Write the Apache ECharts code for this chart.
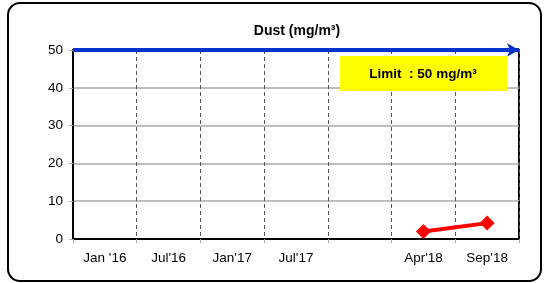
<!DOCTYPE html>
<html>
<head>
<meta charset="utf-8">
<script src="https://cdn.jsdelivr.net/npm/echarts@6/dist/echarts.min.js"></script>
<style>
  html, body { margin: 0; padding: 0; background: #fff; }
  #chart { width: 544px; height: 283px; }
</style>
</head>
<body>
<div id="chart"></div>
<script>
// categories along the x axis (one empty slot between Jul'17 and Apr'18)
var categories = ["Jan '16", "Jul'16", "Jan'17", "Jul'17", "", "Apr'18", "Sep'18"];
// dust readings (mg/m3)
var dustValues = [null, null, null, null, null, 2, 4.2];
var limitValue = 50;
var yTicks = { min: 0, max: 50, interval: 10 };

var myChart = echarts.init(document.getElementById('chart'));

var option = {
    animation: false,
    textStyle: { fontFamily: 'Liberation Sans, Arial, sans-serif' },
    title: {
        text: 'Dust (mg/m³)',
        left: 292,
        textAlign: 'center',
        top: 19,
        textStyle: { fontSize: 14, fontWeight: 'bold', color: '#000', fontFamily: 'Liberation Sans, Arial, sans-serif' }
    },
    grid: {
        left: 73,
        right: 25,
        top: 50,
        bottom: 44,
        show: true,
        borderColor: '#000',
        borderWidth: 2,
        backgroundColor: 'transparent'
    },
    xAxis: {
        type: 'category',
        data: categories,
        boundaryGap: true,
        axisLine: { show: true, lineStyle: { color: '#000', width: 2 } },
        axisTick: { show: true, length: 4, lineStyle: { color: '#aaa' } },
        axisLabel: { color: '#000', fontSize: 13.5, margin: 12, interval: 0 },
        splitLine: { show: true, lineStyle: { color: '#555', type: [4, 3], width: 1 } }
    },
    yAxis: {
        type: 'value',
        min: yTicks.min,
        max: yTicks.max,
        interval: yTicks.interval,
        axisLine: { show: true, lineStyle: { color: '#000', width: 2 } },
        axisTick: { show: true, length: 4, lineStyle: { color: '#aaa' } },
        axisLabel: { color: '#000', fontSize: 13.5, margin: 10 },
        splitLine: { show: true, lineStyle: { color: '#aaa', width: 1.5 } }
    },
    graphic: [
        {
            type: 'rect',
            shape: { x: 8, y: 3, width: 533, height: 278, r: 12 },
            style: { fill: 'none', stroke: '#000', lineWidth: 2 },
            z: 10
        },
        {
            type: 'rect',
            shape: { x: 340, y: 56, width: 167, height: 35 },
            style: { fill: '#ffff00' },
            z: 20
        },
        {
            type: 'text',
            x: 423,
            y: 74,
            style: {
                text: 'Limit  : 50 mg/m³',
                font: 'bold 13.5px Liberation Sans, Arial, sans-serif',
                fill: '#000',
                align: 'center',
                verticalAlign: 'middle'
            },
            z: 21
        }
    ],
    series: [
        {
            name: 'Dust',
            type: 'line',
            data: dustValues,
            connectNulls: false,
            symbol: 'diamond',
            symbolSize: 15,
            itemStyle: { color: '#ff0000' },
            lineStyle: { color: '#ff0000', width: 4 },
            z: 5,
            markLine: {
                silent: true,
                symbol: ['none', 'arrow'],
                symbolSize: [10, 12],
                label: { show: false },
                lineStyle: { color: '#0033cc', width: 4, type: 'solid' },
                data: [{ yAxis: limitValue }]
            }
        }
    ]
};

myChart.setOption(option);
</script>
</body>
</html>
